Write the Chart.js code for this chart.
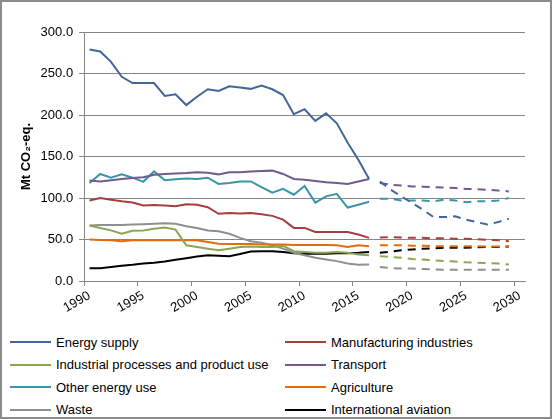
<!DOCTYPE html>
<html>
<head>
<meta charset="utf-8">
<script src="https://cdn.jsdelivr.net/npm/chart.js@4"></script>
<style>
  body { margin: 0; background: #fff; }
  #frame {
    position: absolute; left: 0; top: 0; width: 548px; height: 415px;
    border: 2px solid #8c8c8c; background: #fff;
  }
  #chartBox { position: absolute; left: 0; top: 0; width: 552px; height: 320px; }
  #legend {
    position: absolute; left: 10px; top: 331px;
    display: grid; grid-template-columns: 275px 260px; grid-auto-rows: 22.5px;
    font: 13px "Liberation Sans", Arial, sans-serif; color: #000;
  }
  .item { display: flex; align-items: center; white-space: nowrap; }
  .swatch { display: inline-block; width: 41px; height: 2px; margin-right: 5px; }
</style>
</head>
<body>
<div id="frame"></div>
<div id="chartBox"><canvas id="emissionsChart"></canvas></div>
<div id="legend"></div>
<script>
// categories: 1990 .. 2030
const years = [];
for (let y = 1990; y <= 2030; y++) years.push(String(y));

// historical values 1990-2016 (Mt CO2-eq.)
const energySupply = [279, 276.5, 264, 246, 238.5, 238.5, 238.5, 223, 225, 212, 222, 231, 229, 234.5, 233, 231.5, 235.5, 231, 224, 201, 207, 193, 202, 190, 167, 146, 123];
const manufacturing = [97, 100, 98, 96, 94.5, 91, 91.5, 91, 90, 92.5, 92, 89, 81, 82, 81.5, 82, 80.5, 78.5, 74, 64, 64, 59, 59, 59, 59, 56, 52];
const industrialProcesses = [67, 64, 61, 57, 60.5, 61, 63, 64.5, 62, 43, 41, 39, 37, 39, 41, 41.5, 41, 41, 42.5, 36, 35, 34, 34, 35, 34, 32, 31];
const transport = [121, 120, 121.5, 123, 124, 125, 128, 129, 129.5, 130, 131, 130.5, 128.5, 131, 131, 132, 132.5, 133, 129, 123, 122, 120.5, 119, 118, 117, 120, 123];
const otherEnergyUse = [118, 129, 124.5, 128.5, 124.5, 119.5, 132, 121.5, 122.5, 123.5, 123, 124.5, 117, 118, 120, 120, 113, 106.5, 111, 104, 114.5, 94.5, 102, 105, 88.5, 92, 95.5];
const agriculture = [50, 49.5, 49, 48, 49, 49, 49, 49, 49, 49, 49, 47, 45, 44.5, 44.5, 44.5, 44, 44, 44, 43.5, 43.5, 43.5, 43.5, 43, 41, 43, 42];
const waste = [67, 67.5, 67.5, 67.5, 68, 68.5, 69, 69.5, 69, 66, 64, 61, 60, 57, 52, 48, 46, 43, 39, 34, 31, 28, 26, 24, 21, 19.5, 20];
const aviation = [15.5, 15.5, 17, 18.5, 19.5, 21, 22, 23.5, 25.5, 27.5, 29.5, 31, 30.5, 30, 32.5, 35.5, 36, 36, 35, 33.5, 33, 33, 33, 33.5, 33.5, 34, 35];

// projected values 2017-2029
const energySupplyProj = [120, 110, 102, 94, 86, 77, 77, 78, 74, 71, 68, 71, 75];
const manufacturingProj = [52.5, 53, 52.5, 52, 52, 51.5, 51.5, 51, 51, 50.5, 49.5, 49, 48];
const industrialProcessesProj = [30, 29, 28, 26.5, 26, 25, 24, 23.5, 22.5, 22, 21.5, 21, 20];
const transportProj = [118, 116, 115, 114, 113.5, 113, 112.5, 112, 111, 110.5, 110, 109, 108];
const otherEnergyUseProj = [99, 99, 97, 97, 97, 96, 98, 97, 95, 96, 96, 97, 100];
const agricultureProj = [43, 43, 43, 42.5, 42.5, 42, 42, 42, 42, 42, 41.5, 41.5, 41.5];
const wasteProj = [17, 15.5, 15, 15, 14.5, 14, 13.5, 13.5, 13.5, 13.5, 13.5, 13.5, 13.5];
const aviationProj = [34, 35.5, 37, 38, 39, 39.5, 40, 40, 40, 40.5, 41, 41, 41.5];

const seriesNames = ["Energy supply", "Manufacturing industries", "Industrial processes and product use", "Transport",
  "Other energy use", "Agriculture", "Waste", "International aviation"];
const historical = [energySupply, manufacturing, industrialProcesses, transport, otherEnergyUse, agriculture, waste, aviation];
const projected = [energySupplyProj, manufacturingProj, industrialProcessesProj, transportProj, otherEnergyUseProj, agricultureProj, wasteProj, aviationProj];
const colors = ["#41679a", "#a3403d", "#8aa650", "#725a8e", "#3a95a8", "#e46c0a", "#8f8f8f", "#000000"];

const projStart = 2017 - 1990;
const datasets = [];
historical.forEach(function (vals, i) {
  const data = years.map(function (y, k) { return k < vals.length ? vals[k] : null; });
  datasets.push({ label: seriesNames[i], data: data, borderColor: colors[i], borderWidth: 2,
    pointRadius: 0, tension: 0, fill: false });
});
projected.forEach(function (vals, i) {
  const data = years.map(function (y, k) {
    const j = k - projStart;
    return j >= 0 && j < vals.length ? vals[j] : null;
  });
  datasets.push({ label: seriesNames[i] + " (projection)", data: data, borderColor: colors[i], borderWidth: 2,
    borderDash: [8, 6], pointRadius: 0, tension: 0, fill: false });
});

const font = { family: "'Liberation Sans', Arial, sans-serif", size: 13 };

new Chart(document.getElementById("emissionsChart").getContext("2d"), {
  type: "line",
  data: { labels: years, datasets: datasets },
  options: {
    responsive: true,
    maintainAspectRatio: false,
    animation: false,
    layout: { padding: { left: 19, right: 27, top: 32, bottom: 2 } },
    plugins: { legend: { display: false }, tooltip: { enabled: false } },
    scales: {
      x: {
        type: "category",
        offset: true,
        grid: {
          offset: true,
          drawOnChartArea: false,
          tickLength: 5,
          color: function (ctx) { return ctx.index % 5 === 0 && ctx.index <= 40 ? "#868686" : "rgba(0,0,0,0)"; }
        },
        border: { color: "#868686", width: 1 },
        ticks: {
          autoSkip: false, minRotation: 30, maxRotation: 30, color: "#000", font: font, padding: 2,
          callback: function (v, i) { return i % 5 === 0 ? years[i] : ""; }
        }
      },
      y: {
        min: 0, max: 300,
        grid: { color: "#868686", tickLength: 5 },
        border: { color: "#868686", width: 1 },
        ticks: { stepSize: 50, color: "#000", font: font, padding: 6,
          callback: function (v) { return v.toFixed(1); } },
        title: { display: true, text: "Mt CO₂-eq.", color: "#000",
          font: { family: font.family, size: 13, weight: "bold" }, padding: { top: 0, bottom: 0 } }
      }
    }
  }
});

// legend in two columns, same order as the reference
const legend = document.getElementById("legend");
seriesNames.forEach(function (name, i) {
  const item = document.createElement("div");
  item.className = "item";
  item.innerHTML = '<span class="swatch" style="background:' + colors[i] + '"></span>' + name;
  legend.appendChild(item);
});
</script>
</body>
</html>
